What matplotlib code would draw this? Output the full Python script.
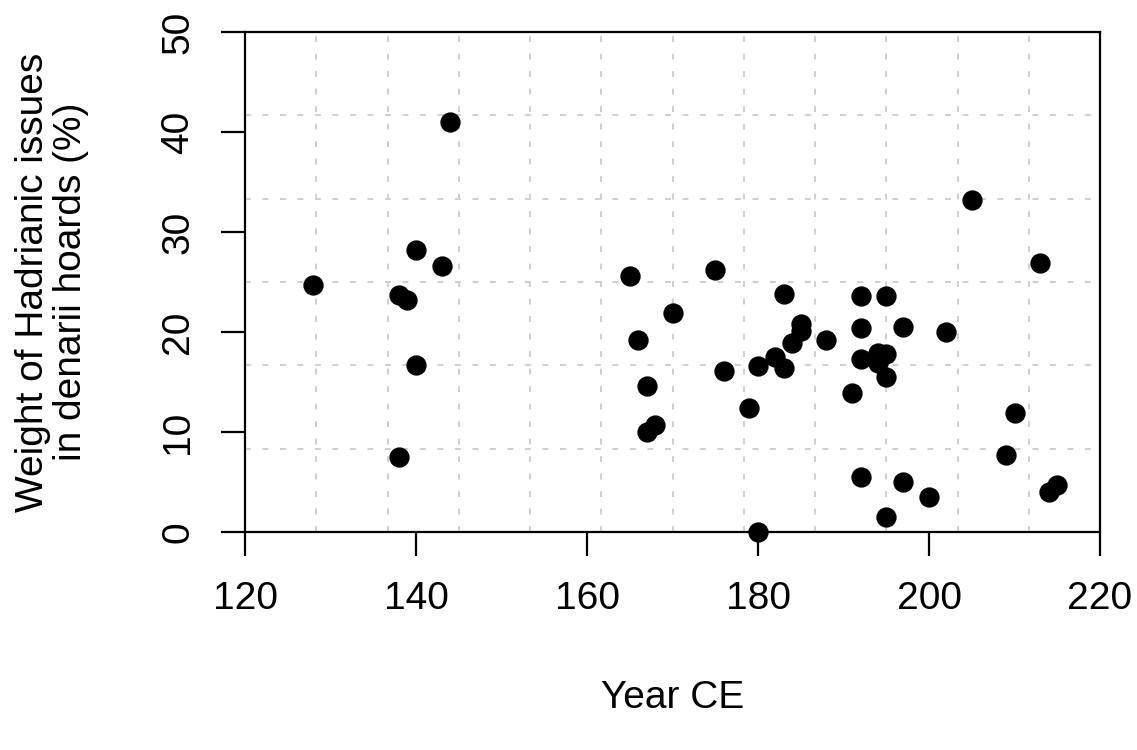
import numpy as np
import matplotlib
matplotlib.use("Agg")
from matplotlib import pyplot as plt

# hoard year vs share of Hadrianic denarii (%)
YEARS = [128, 138, 139, 140, 143, 144, 140, 138,
         165, 175, 170, 166, 167, 168, 167, 176, 179, 180, 180,
         183, 182, 183, 184, 185, 185, 188, 191,
         192, 192, 192, 195, 194, 195, 194, 195, 197, 202,
         192, 197, 200, 195,
         205, 213, 210, 209, 214, 215]
WEIGHTS = [24.7, 23.7, 23.2, 28.2, 26.6, 41.0, 16.7, 7.5,
           25.6, 26.2, 21.9, 19.2, 14.6, 10.7, 10.0, 16.1, 12.4, 16.6, 0.0,
           23.8, 17.5, 16.4, 18.9, 20.8, 20.1, 19.2, 13.9,
           23.6, 20.4, 17.3, 23.6, 17.9, 17.8, 16.9, 15.5, 20.5, 20.0,
           5.5, 5.0, 3.5, 1.5,
           33.2, 26.9, 11.9, 7.7, 4.0, 4.7]

X_TICKS = [120, 140, 160, 180, 200, 220]
Y_TICKS = [0, 10, 20, 30, 40, 50]
X_LIM = (120, 220)
Y_LIM = (0, 50)

FONT_SIZE = 28
LINE_W = 1.6

plt.rcParams["font.family"] = ["Liberation Sans", "DejaVu Sans"]

fig = plt.figure(figsize=(11.37, 7.5), dpi=100)
ax = fig.add_axes([245 / 1137, 1 - 532 / 750, 855 / 1137, 500 / 750])

# R-style grid(12, 6): equally spaced lines across the plot region
for gx in np.linspace(*X_LIM, 13)[1:-1]:
    ax.axvline(gx, color="#cfcfcf", lw=1.4, ls=(0, (3, 6)), zorder=1)
for gy in np.linspace(*Y_LIM, 7)[1:-1]:
    ax.axhline(gy, color="#cfcfcf", lw=1.4, ls=(0, (3, 6)), zorder=1)

ax.scatter(YEARS, WEIGHTS, s=185, color="black", zorder=3, clip_on=False)

ax.set_xlim(*X_LIM)
ax.set_ylim(*Y_LIM)
ax.set_xticks(X_TICKS)
ax.set_yticks(Y_TICKS)
ax.set_yticklabels([str(t) for t in Y_TICKS], rotation=90, va="center")
ax.tick_params(axis="both", length=17, width=LINE_W, labelsize=FONT_SIZE,
               direction="out")
ax.tick_params(axis="x", pad=18)
ax.tick_params(axis="y", pad=18)
for sp in ax.spines.values():
    sp.set_linewidth(LINE_W)

fig.text(673 / 1137, 1 - 698 / 750, "Year CE", ha="center", va="center",
         fontsize=FONT_SIZE)
fig.text(52 / 1137, 1 - 282 / 750,
         "Weight of Hadrianic issues\nin denarii hoards (%)",
         ha="center", va="center", rotation=90, fontsize=FONT_SIZE,
         multialignment="center", linespacing=1.1)

fig.savefig("out.png", dpi=100)
